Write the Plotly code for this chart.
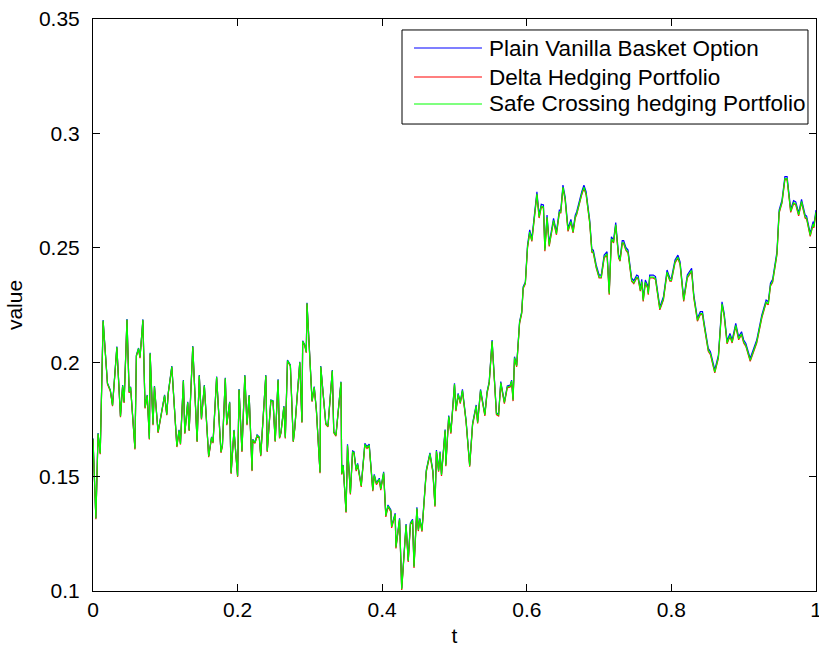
import plotly.graph_objects as go

# Time grid and portfolio values along one simulated path
t = [
    0.000, 0.004, 0.007, 0.010, 0.014, 0.020, 0.024, 0.027, 0.033, 0.038,
    0.041, 0.043, 0.047, 0.050, 0.052, 0.058, 0.060, 0.063, 0.065, 0.069,
    0.072, 0.075, 0.078, 0.079, 0.083, 0.085, 0.090, 0.099, 0.102, 0.104,
    0.109, 0.116, 0.119, 0.121, 0.125, 0.127, 0.131, 0.133, 0.138, 0.144,
    0.147, 0.150, 0.154, 0.160, 0.164, 0.166, 0.171, 0.177, 0.179, 0.183,
    0.185, 0.189, 0.191, 0.195, 0.200, 0.202, 0.206, 0.210, 0.213, 0.216,
    0.220, 0.221, 0.224, 0.227, 0.230, 0.232, 0.239, 0.241, 0.246, 0.249,
    0.252, 0.256, 0.258, 0.260, 0.264, 0.266, 0.269, 0.273, 0.277, 0.279,
    0.286, 0.289, 0.290, 0.293, 0.295, 0.296, 0.303, 0.306, 0.309, 0.314,
    0.315, 0.322, 0.325, 0.331, 0.333, 0.336, 0.343, 0.344, 0.346, 0.350,
    0.352, 0.356, 0.359, 0.361, 0.364, 0.366, 0.371, 0.376, 0.379, 0.382,
    0.387, 0.389, 0.392, 0.396, 0.398, 0.402, 0.405, 0.408, 0.412, 0.413,
    0.418, 0.419, 0.424, 0.427, 0.433, 0.436, 0.439, 0.442, 0.444, 0.448,
    0.450, 0.452, 0.455, 0.461, 0.466, 0.470, 0.473, 0.475, 0.478, 0.480,
    0.482, 0.487, 0.488, 0.492, 0.495, 0.500, 0.502, 0.505, 0.508, 0.511,
    0.516, 0.521, 0.525, 0.530, 0.532, 0.536, 0.542, 0.545, 0.548, 0.552,
    0.558, 0.561, 0.564, 0.569, 0.573, 0.577, 0.579, 0.581, 0.583, 0.586,
    0.590, 0.593, 0.595, 0.598, 0.601, 0.604, 0.607, 0.610, 0.614, 0.617,
    0.620, 0.623, 0.625, 0.628, 0.631, 0.637, 0.641, 0.645, 0.647, 0.650,
    0.653, 0.657, 0.661, 0.664, 0.667, 0.669, 0.674, 0.676, 0.679, 0.682,
    0.687, 0.690, 0.692, 0.696, 0.700, 0.703, 0.707, 0.711, 0.714, 0.717,
    0.720, 0.723, 0.727, 0.729, 0.732, 0.734, 0.737, 0.740, 0.745, 0.748,
    0.752, 0.754, 0.757, 0.759, 0.761, 0.764, 0.767, 0.768, 0.770, 0.775,
    0.778, 0.781, 0.784, 0.789, 0.794, 0.798, 0.800, 0.805, 0.809, 0.812,
    0.817, 0.822, 0.828, 0.831, 0.836, 0.840, 0.843, 0.845, 0.851, 0.854,
    0.860, 0.865, 0.870, 0.873, 0.877, 0.881, 0.884, 0.889, 0.893, 0.897,
    0.900, 0.903, 0.909, 0.918, 0.925, 0.931, 0.934, 0.937, 0.940, 0.946,
    0.949, 0.953, 0.957, 0.960, 0.962, 0.965, 0.969, 0.972, 0.976, 0.980,
    0.985, 0.987, 0.992, 0.996, 0.997, 1.000,
]

basket_option = [
    0.1667, 0.1319, 0.1690, 0.1603, 0.2184, 0.1909, 0.1878, 0.1813, 0.2068, 0.1765,
    0.1900, 0.1827, 0.2189, 0.1871, 0.1893, 0.1624, 0.2031, 0.2062, 0.2023, 0.2187,
    0.1803, 0.1857, 0.1667, 0.2041, 0.1730, 0.1896, 0.1696, 0.1857, 0.1773, 0.1865,
    0.1983, 0.1634, 0.1704, 0.1645, 0.1922, 0.1692, 0.1827, 0.1704, 0.2071, 0.1656,
    0.1944, 0.1755, 0.1900, 0.1590, 0.1674, 0.1651, 0.1937, 0.1609, 0.1638, 0.1932,
    0.1730, 0.1827, 0.1517, 0.1704, 0.1504, 0.1883, 0.1613, 0.1944, 0.1730, 0.1857,
    0.1529, 0.1663, 0.1650, 0.1682, 0.1673, 0.1594, 0.1944, 0.1613, 0.1835, 0.1832,
    0.1657, 0.1925, 0.1672, 0.1695, 0.1808, 0.1672, 0.2009, 0.1988, 0.1656, 0.1711,
    0.2002, 0.1740, 0.2094, 0.2075, 0.2046, 0.2260, 0.1832, 0.1893, 0.1791, 0.1520,
    0.1983, 0.1733, 0.1722, 0.1966, 0.1696, 0.1682, 0.1915, 0.1514, 0.1551, 0.1347,
    0.1641, 0.1430, 0.1612, 0.1609, 0.1532, 0.1558, 0.1463, 0.1645, 0.1631, 0.1642,
    0.1444, 0.1510, 0.1473, 0.1493, 0.1449, 0.1521, 0.1332, 0.1376, 0.1354, 0.1284,
    0.1340, 0.1194, 0.1318, 0.1012, 0.1293, 0.1135, 0.1298, 0.1313, 0.1109, 0.1366,
    0.1270, 0.1318, 0.1267, 0.1529, 0.1604, 0.1529, 0.1376, 0.1616, 0.1529, 0.1609,
    0.1511, 0.1706, 0.1553, 0.1767, 0.1696, 0.1908, 0.1794, 0.1864, 0.1827, 0.1881,
    0.1747, 0.1551, 0.1733, 0.1813, 0.1740, 0.1881, 0.1773, 0.1871, 0.1915, 0.2097,
    0.1779, 0.1773, 0.1915, 0.1827, 0.1896, 0.1900, 0.1922, 0.1838, 0.2024, 0.1988,
    0.2177, 0.2221, 0.2330, 0.2350, 0.2512, 0.2578, 0.2541, 0.2643, 0.2745, 0.2643,
    0.2690, 0.2687, 0.2498, 0.2643, 0.2519, 0.2629, 0.2570, 0.2665, 0.2665, 0.2774,
    0.2723, 0.2585, 0.2624, 0.2578, 0.2643, 0.2658, 0.2731, 0.2745, 0.2774, 0.2745,
    0.2621, 0.2493, 0.2490, 0.2425, 0.2381, 0.2381, 0.2468, 0.2483, 0.2308, 0.2548,
    0.2534, 0.2610, 0.2468, 0.2454, 0.2531, 0.2531, 0.2502, 0.2490, 0.2367, 0.2356,
    0.2381, 0.2377, 0.2323, 0.2362, 0.2279, 0.2359, 0.2337, 0.2308, 0.2381, 0.2381,
    0.2374, 0.2308, 0.2242, 0.2286, 0.2403, 0.2367, 0.2367, 0.2447, 0.2468, 0.2439,
    0.2279, 0.2381, 0.2410, 0.2294, 0.2192, 0.2221, 0.2221, 0.2177, 0.2061, 0.2046,
    0.1966, 0.2031, 0.2264, 0.2214, 0.2093, 0.2126, 0.2097, 0.2170, 0.2111, 0.2133,
    0.2097, 0.2082, 0.2017, 0.2097, 0.2206, 0.2272, 0.2264, 0.2345, 0.2362, 0.2483,
    0.2665, 0.2709, 0.2811, 0.2811, 0.2745, 0.2668, 0.2706, 0.2701, 0.2653, 0.2712,
    0.2643, 0.2639, 0.2563, 0.2614, 0.2600, 0.2665,
]

delta_hedge = [
    0.1662, 0.1314, 0.1685, 0.1598, 0.2179, 0.1904, 0.1873, 0.1808, 0.2063, 0.1760,
    0.1895, 0.1822, 0.2184, 0.1866, 0.1888, 0.1619, 0.2026, 0.2057, 0.2018, 0.2182,
    0.1798, 0.1852, 0.1662, 0.2036, 0.1725, 0.1891, 0.1691, 0.1852, 0.1768, 0.1860,
    0.1978, 0.1629, 0.1699, 0.1640, 0.1917, 0.1687, 0.1822, 0.1699, 0.2066, 0.1651,
    0.1939, 0.1750, 0.1895, 0.1585, 0.1669, 0.1646, 0.1932, 0.1604, 0.1633, 0.1927,
    0.1725, 0.1822, 0.1512, 0.1699, 0.1499, 0.1878, 0.1608, 0.1939, 0.1725, 0.1852,
    0.1524, 0.1658, 0.1645, 0.1677, 0.1668, 0.1589, 0.1939, 0.1608, 0.1830, 0.1827,
    0.1652, 0.1920, 0.1667, 0.1690, 0.1803, 0.1667, 0.2004, 0.1983, 0.1651, 0.1706,
    0.1997, 0.1735, 0.2089, 0.2070, 0.2041, 0.2255, 0.1827, 0.1888, 0.1786, 0.1515,
    0.1978, 0.1728, 0.1717, 0.1961, 0.1691, 0.1677, 0.1910, 0.1509, 0.1546, 0.1342,
    0.1633, 0.1422, 0.1604, 0.1601, 0.1524, 0.1550, 0.1455, 0.1637, 0.1623, 0.1634,
    0.1436, 0.1502, 0.1465, 0.1485, 0.1441, 0.1513, 0.1324, 0.1368, 0.1346, 0.1276,
    0.1332, 0.1186, 0.1310, 0.1004, 0.1285, 0.1127, 0.1290, 0.1305, 0.1101, 0.1358,
    0.1262, 0.1310, 0.1259, 0.1521, 0.1596, 0.1521, 0.1368, 0.1608, 0.1521, 0.1601,
    0.1503, 0.1698, 0.1545, 0.1759, 0.1688, 0.1900, 0.1786, 0.1856, 0.1819, 0.1873,
    0.1739, 0.1543, 0.1725, 0.1805, 0.1732, 0.1873, 0.1765, 0.1863, 0.1907, 0.2089,
    0.1771, 0.1765, 0.1907, 0.1819, 0.1888, 0.1892, 0.1914, 0.1830, 0.2016, 0.1980,
    0.2169, 0.2213, 0.2322, 0.2342, 0.2499, 0.2565, 0.2528, 0.2630, 0.2732, 0.2630,
    0.2677, 0.2674, 0.2485, 0.2630, 0.2506, 0.2616, 0.2557, 0.2652, 0.2652, 0.2761,
    0.2710, 0.2572, 0.2611, 0.2565, 0.2630, 0.2645, 0.2718, 0.2732, 0.2761, 0.2732,
    0.2608, 0.2480, 0.2477, 0.2412, 0.2368, 0.2368, 0.2455, 0.2470, 0.2295, 0.2535,
    0.2521, 0.2597, 0.2455, 0.2441, 0.2518, 0.2518, 0.2489, 0.2477, 0.2354, 0.2343,
    0.2368, 0.2364, 0.2310, 0.2349, 0.2266, 0.2346, 0.2324, 0.2295, 0.2368, 0.2368,
    0.2361, 0.2295, 0.2229, 0.2273, 0.2390, 0.2354, 0.2354, 0.2434, 0.2455, 0.2426,
    0.2266, 0.2368, 0.2397, 0.2281, 0.2179, 0.2208, 0.2208, 0.2164, 0.2048, 0.2033,
    0.1953, 0.2018, 0.2251, 0.2201, 0.2080, 0.2113, 0.2084, 0.2157, 0.2098, 0.2120,
    0.2084, 0.2069, 0.2004, 0.2084, 0.2193, 0.2259, 0.2251, 0.2332, 0.2349, 0.2470,
    0.2652, 0.2696, 0.2798, 0.2798, 0.2732, 0.2655, 0.2693, 0.2688, 0.2640, 0.2699,
    0.2630, 0.2626, 0.2550, 0.2601, 0.2587, 0.2652,
]

safe_crossing = [
    0.1665, 0.1317, 0.1688, 0.1601, 0.2182, 0.1907, 0.1876, 0.1811, 0.2066, 0.1763,
    0.1898, 0.1825, 0.2187, 0.1869, 0.1891, 0.1622, 0.2029, 0.2060, 0.2021, 0.2185,
    0.1801, 0.1855, 0.1665, 0.2039, 0.1728, 0.1894, 0.1694, 0.1855, 0.1771, 0.1863,
    0.1981, 0.1632, 0.1702, 0.1643, 0.1920, 0.1690, 0.1825, 0.1702, 0.2069, 0.1654,
    0.1942, 0.1753, 0.1898, 0.1588, 0.1672, 0.1649, 0.1935, 0.1607, 0.1636, 0.1930,
    0.1728, 0.1825, 0.1515, 0.1702, 0.1502, 0.1881, 0.1611, 0.1942, 0.1728, 0.1855,
    0.1527, 0.1661, 0.1648, 0.1680, 0.1671, 0.1592, 0.1942, 0.1611, 0.1833, 0.1830,
    0.1655, 0.1923, 0.1670, 0.1693, 0.1806, 0.1670, 0.2007, 0.1986, 0.1654, 0.1709,
    0.2000, 0.1738, 0.2092, 0.2073, 0.2044, 0.2258, 0.1830, 0.1891, 0.1789, 0.1518,
    0.1981, 0.1731, 0.1720, 0.1964, 0.1694, 0.1680, 0.1913, 0.1512, 0.1549, 0.1345,
    0.1637, 0.1426, 0.1608, 0.1605, 0.1528, 0.1554, 0.1459, 0.1641, 0.1627, 0.1638,
    0.1440, 0.1506, 0.1469, 0.1489, 0.1445, 0.1517, 0.1328, 0.1372, 0.1350, 0.1280,
    0.1336, 0.1190, 0.1314, 0.1008, 0.1289, 0.1131, 0.1294, 0.1309, 0.1105, 0.1362,
    0.1266, 0.1314, 0.1263, 0.1525, 0.1600, 0.1525, 0.1372, 0.1612, 0.1525, 0.1605,
    0.1507, 0.1702, 0.1549, 0.1763, 0.1692, 0.1904, 0.1790, 0.1860, 0.1823, 0.1877,
    0.1743, 0.1547, 0.1729, 0.1809, 0.1736, 0.1877, 0.1769, 0.1867, 0.1911, 0.2093,
    0.1775, 0.1769, 0.1911, 0.1823, 0.1892, 0.1896, 0.1918, 0.1834, 0.2020, 0.1984,
    0.2173, 0.2217, 0.2326, 0.2346, 0.2503, 0.2569, 0.2532, 0.2634, 0.2736, 0.2634,
    0.2681, 0.2678, 0.2489, 0.2634, 0.2510, 0.2620, 0.2561, 0.2656, 0.2656, 0.2765,
    0.2714, 0.2576, 0.2615, 0.2569, 0.2634, 0.2649, 0.2722, 0.2736, 0.2765, 0.2736,
    0.2612, 0.2484, 0.2481, 0.2416, 0.2372, 0.2372, 0.2459, 0.2474, 0.2299, 0.2539,
    0.2525, 0.2601, 0.2459, 0.2445, 0.2522, 0.2522, 0.2493, 0.2481, 0.2358, 0.2347,
    0.2372, 0.2368, 0.2314, 0.2353, 0.2270, 0.2350, 0.2328, 0.2299, 0.2372, 0.2372,
    0.2365, 0.2299, 0.2233, 0.2277, 0.2394, 0.2358, 0.2358, 0.2438, 0.2459, 0.2430,
    0.2270, 0.2372, 0.2401, 0.2285, 0.2183, 0.2212, 0.2212, 0.2168, 0.2052, 0.2037,
    0.1957, 0.2022, 0.2255, 0.2205, 0.2084, 0.2117, 0.2088, 0.2161, 0.2102, 0.2124,
    0.2088, 0.2073, 0.2008, 0.2088, 0.2197, 0.2263, 0.2255, 0.2336, 0.2353, 0.2474,
    0.2656, 0.2700, 0.2802, 0.2802, 0.2736, 0.2659, 0.2697, 0.2692, 0.2644, 0.2703,
    0.2634, 0.2630, 0.2554, 0.2605, 0.2591, 0.2656,
]

series = [
    ("Plain Vanilla Basket Option", basket_option, "#0000ff"),
    ("Delta Hedging Portfolio", delta_hedge, "#ff0000"),
    ("Safe Crossing hedging Portfolio", safe_crossing, "#00ff00"),
]

x_ticks = [0, 0.2, 0.4, 0.6, 0.8, 1]
x_tick_text = ["0", "0.2", "0.4", "0.6", "0.8", "1"]
y_ticks = [0.1, 0.15, 0.2, 0.25, 0.3, 0.35]
y_tick_text = ["0.1", "0.15", "0.2", "0.25", "0.3", "0.35"]

font_family = "Liberation Sans, Arial, sans-serif"

fig = go.Figure()
for name, values, color in series:
    fig.add_trace(go.Scatter(
        x=t, y=values, mode="lines", name=name,
        line=dict(color=color, width=1.2),
    ))

# Boxed legend in the upper right corner of the axes (paper coordinates)
box_left, box_right, box_top, box_bottom = 0.4274, 0.9889, 0.9808, 0.8164
row_y = [0.9493, 0.8986, 0.8514]
sample_x0, sample_x1, label_x = 0.4440, 0.5380, 0.5450

shapes = [dict(
    type="rect", xref="paper", yref="paper",
    x0=box_left, x1=box_right, y0=box_bottom, y1=box_top,
    line=dict(color="black", width=1), fillcolor="white", layer="above",
)]
annotations = []
for (name, _, color), ry in zip(series, row_y):
    shapes.append(dict(
        type="line", xref="paper", yref="paper",
        x0=sample_x0, x1=sample_x1, y0=ry, y1=ry,
        line=dict(color=color, width=1.2), layer="above",
    ))
    annotations.append(dict(
        xref="paper", yref="paper", x=label_x, y=ry,
        xanchor="left", yanchor="middle", showarrow=False, text=name,
        font=dict(family=font_family, size=22.5, color="black"),
    ))

axis_common = dict(
    showline=True, linecolor="black", linewidth=1, mirror="ticks",
    ticks="inside", ticklen=7, tickcolor="black", tickwidth=1,
    showgrid=False, zeroline=False, ticklabeloverflow="allow",
    automargin=False,
    tickfont=dict(family=font_family, size=21, color="black"),
)

fig.update_layout(
    width=819, height=649,
    margin=dict(l=93, r=3, t=19, b=58),
    paper_bgcolor="white", plot_bgcolor="white",
    font=dict(family=font_family, size=21, color="black"),
    xaxis=dict(
        range=[0, 1], tickvals=x_ticks, ticktext=x_tick_text,
        title=dict(text="t", standoff=8, font=dict(size=21)),
        ticklabelstandoff=0,
        **axis_common,
    ),
    yaxis=dict(
        range=[0.1, 0.35], tickvals=y_ticks, ticktext=y_tick_text,
        title=dict(text="value", standoff=10, font=dict(size=21)),
        ticklabelstandoff=8,
        **axis_common,
    ),
    shapes=shapes,
    annotations=annotations,
    showlegend=False,
)

fig.write_html("out.html")
